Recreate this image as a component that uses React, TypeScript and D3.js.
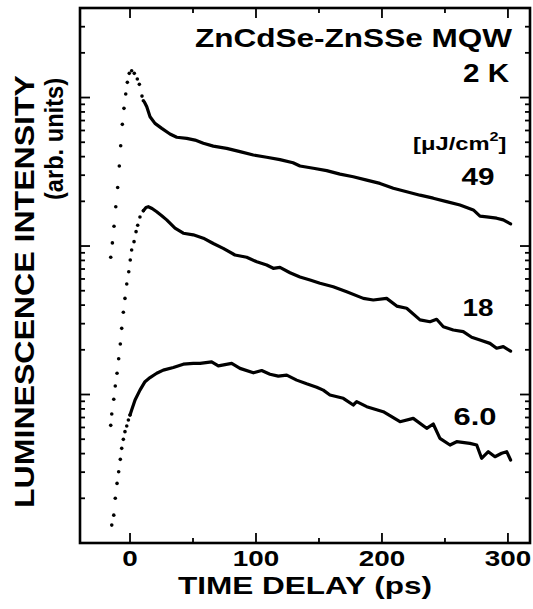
import React from 'react';
import * as d3 from 'd3';

const W = 533;
const H = 609;

// x axis (time delay, ps)
const xDomain = [-39.7, 317.5];
const xMajorTicks = [0, 100, 200, 300];
const xMinorTicks = [50, 150, 250];
const xTickLabels = ['0', '100', '200', '300'];

// y axis (log intensity, arb. units)
const yDomain = [1, 4009];
const yMajorTicks = [1, 10, 100, 1000];

// 49 uJ/cm2 : dotted rise, then solid line
const t49Dots = [-15.3, -14.0, -12.7, -11.3, -9.8, -8.5, -7.4, -6.1, -4.8, -3.4, -2.1, -0.6, 1.3, 3.4, 5.8, 7.4, 9.5, 10.6];
const i49Dots = [84, 105, 136, 184, 248, 346, 474, 660, 846, 1056, 1266, 1455, 1514, 1455, 1333, 1227, 1023, 951];
const t49Line = [11.5, 13.3, 15.9, 19.8, 25.2, 31.7, 37.1, 45.0, 51.6, 58.2, 66.1, 76.7, 87.3, 97.9, 108.5, 119.0, 129.4, 134.9, 145.5, 156.1, 166.7, 177.2, 187.9, 198.4, 209.0, 219.6, 230.2, 240.7, 251.3, 261.9, 272.5, 277.8, 283.1, 291.0, 296.3, 302.1];
const i49Line = [930, 867, 743, 670, 620, 568, 540, 531, 517, 492, 471, 455, 432, 410, 396, 382, 364, 346, 334, 322, 305, 293, 278, 264, 245, 232, 220, 210, 199, 189, 175, 159, 157, 154, 150, 141];

// 18 uJ/cm2
const t18Dots = [-15.3, -14.5, -12.9, -11.7, -10.3, -9.0, -7.7, -6.6, -5.3, -4.0, -2.6, -1.0, 0.2, 1.3, 3.2, 4.8, 6.1, 7.9, 10.6];
const i18Dots = [6.2, 7.4, 9.3, 11.4, 13.9, 17.4, 21.9, 27.9, 35.8, 44.4, 55.5, 67.1, 80.5, 94, 107, 125, 138, 157, 173];
const t18Line = [10.6, 12.7, 14.5, 17.5, 21.2, 25.2, 29.1, 35.7, 42.3, 50.2, 58.2, 66.1, 74.0, 83.3, 92.6, 100.6, 108.5, 113.7, 119.0, 127.0, 134.9, 142.9, 150.8, 161.3, 172.0, 185.2, 193.1, 203.7, 211.7, 219.6, 230.2, 238.1, 243.4, 248.7, 256.6, 264.5, 271.2, 277.8, 285.7, 291.0, 296.3, 302.1];
const i18Line = [173, 182, 184, 179, 170, 160, 150, 132, 122, 119, 113, 104, 96.5, 87, 84, 78.4, 74.5, 70.8, 71.9, 66.1, 61.8, 59, 56.1, 53.2, 49.2, 44.4, 43.3, 44.4, 39.4, 38.1, 31.8, 30.9, 32.1, 28.6, 27.2, 26.5, 24.3, 23.3, 22.1, 20.5, 21.0, 19.6];

// 6.0 uJ/cm2
const t6Dots = [-14.5, -12.9, -11.7, -10.3, -9.0, -7.7, -6.6, -5.3, -4.0, -2.6, -1.3, 0];
const i6Dots = [1.32, 1.54, 2.0, 2.52, 3.02, 3.66, 4.34, 4.99, 5.62, 6.14, 6.73, 7.28];
const t6Line = [0, 1.3, 4.0, 7.9, 11.9, 15.9, 21.2, 26.4, 34.4, 42.3, 50.2, 55.6, 64.8, 70.1, 80.7, 87.3, 97.9, 104.5, 111.1, 117.7, 124.4, 132.3, 140.2, 148.2, 153.4, 158.7, 169.3, 177.2, 179.9, 187.9, 201.0, 214.3, 224.8, 235.5, 240.7, 246.0, 254.0, 259.3, 269.8, 275.2, 279.1, 284.4, 289.7, 295.0, 299.0, 302.1];
const i6Line = [7.28, 7.86, 9.18, 10.7, 12.2, 13.0, 13.9, 14.6, 15.2, 16.0, 16.2, 16.2, 16.6, 15.6, 16.2, 15.0, 14.0, 14.5, 13.7, 13.3, 13.5, 12.5, 11.8, 11.2, 10.7, 9.93, 9.43, 8.50, 8.95, 8.28, 7.66, 6.56, 6.91, 5.92, 6.33, 5.07, 4.57, 4.81, 4.69, 4.57, 3.72, 4.12, 3.81, 4.02, 4.12, 3.62];

const fluenceLabels = ['49', '18', '6.0'];
const titleText = 'ZnCdSe-ZnSSe MQW';
const tempText = '2 K';
const xTitle = 'TIME DELAY (ps)';
const yTitle = 'LUMINESCENCE INTENSITY';
const yTitle2 = '(arb. units)';

const FONT = "'Liberation Sans', Arial, Helvetica, sans-serif";

export default function App() {
  const left = 80, right = 530, top = 8, bottom = 543;
  const x = d3.scaleLinear().domain(xDomain).range([left, right]);
  const y = d3.scaleLog().domain(yDomain).range([bottom, top]);

  const yMinor: number[] = [];
  for (let d = 0; d <= 3; d++) {
    for (let m = 2; m <= 9; m++) {
      const v = m * Math.pow(10, d);
      if (v < yDomain[1]) yMinor.push(v);
    }
  }

  const line = d3.line<[number, number]>().x(d => x(d[0])).y(d => y(d[1]));
  const zip = (a: number[], b: number[]) => a.map((v, i) => [v, b[i]] as [number, number]);

  const curves = [
    { dots: zip(t49Dots, i49Dots), line: zip(t49Line, i49Line) },
    { dots: zip(t18Dots, i18Dots), line: zip(t18Line, i18Line) },
    { dots: zip(t6Dots, i6Dots), line: zip(t6Line, i6Line) },
  ];

  const labelPos = [
    { x: 478, y: 185, w: 33 },
    { x: 478, y: 316, w: 31 },
    { x: 475, y: 425, w: 43 },
  ];

  const majLen = 10, minLen = 5;

  return (
    <svg width={W} height={H} style={{ position: 'absolute', left: 0, top: 0, background: '#fff' }}>
      <rect x={0} y={0} width={W} height={H} fill="#fff" />
      {/* curves */}
      {curves.map((c, i) => (
        <g key={i}>
          <path d={line(c.line) || ''} fill="none" stroke="#000" strokeWidth={3.2} strokeLinejoin="round" strokeLinecap="round" />
          {c.dots.map((p, j) => (
            <circle key={j} cx={x(p[0])} cy={y(p[1])} r={1.8} fill="#000" />
          ))}
        </g>
      ))}

      {/* ticks */}
      <g stroke="#000" strokeWidth={1.8}>
        {xMajorTicks.map(v => (
          <g key={'xm' + v}>
            <line x1={x(v)} x2={x(v)} y1={bottom} y2={bottom - majLen} />
            <line x1={x(v)} x2={x(v)} y1={top} y2={top + majLen} />
          </g>
        ))}
        {xMinorTicks.map(v => (
          <g key={'xn' + v}>
            <line x1={x(v)} x2={x(v)} y1={bottom} y2={bottom - minLen} />
            <line x1={x(v)} x2={x(v)} y1={top} y2={top + minLen} />
          </g>
        ))}
        {yMajorTicks.map(v => (
          <g key={'ym' + v}>
            <line x1={left} x2={left + majLen} y1={y(v)} y2={y(v)} />
            <line x1={right} x2={right - majLen} y1={y(v)} y2={y(v)} />
          </g>
        ))}
        {yMinor.map(v => (
          <g key={'yn' + v}>
            <line x1={left} x2={left + minLen} y1={y(v)} y2={y(v)} />
            <line x1={right} x2={right - minLen} y1={y(v)} y2={y(v)} />
          </g>
        ))}
      </g>

      {/* frame */}
      <rect x={left} y={top} width={right - left} height={bottom - top} fill="none" stroke="#000" strokeWidth={2.6} />

      {/* tick labels */}
      <g fontFamily={FONT} fontWeight="bold" fontSize={22} fill="#000">
        {xMajorTicks.map((v, i) => (
          <text key={v} x={x(v)} y={566} textAnchor="middle"
            textLength={xTickLabels[i].length * 15.5} lengthAdjust="spacingAndGlyphs">{xTickLabels[i]}</text>
        ))}
      </g>

      {/* axis titles */}
      <text x={305} y={594} textAnchor="middle" fontFamily={FONT} fontWeight="bold" fontSize={24}
        textLength={254} lengthAdjust="spacingAndGlyphs">{xTitle}</text>
      <text transform="translate(34,291.5) rotate(-90)" textAnchor="middle" fontFamily={FONT} fontWeight="bold" fontSize={27}
        textLength={433} lengthAdjust="spacingAndGlyphs">{yTitle}</text>
      <text transform="translate(63,139) rotate(-90)" textAnchor="middle" fontFamily={FONT} fontWeight="bold" fontSize={25}
        textLength={122} lengthAdjust="spacingAndGlyphs">{yTitle2}</text>

      {/* annotations */}
      <g fontFamily={FONT} fontWeight="bold" fill="#000">
        <text x={512} y={47} textAnchor="end" fontSize={25} textLength={317} lengthAdjust="spacingAndGlyphs">{titleText}</text>
        <text x={509} y={82} textAnchor="end" fontSize={25} textLength={46} lengthAdjust="spacingAndGlyphs">{tempText}</text>
        <g transform="translate(413,150) scale(1.25,1)">
          <text x={0} y={0} fontSize={19}>
            [μJ/cm<tspan fontSize={13} dy={-9}>2</tspan><tspan dy={9}>]</tspan>
          </text>
        </g>
        {fluenceLabels.map((s, i) => (
          <text key={s} x={labelPos[i].x} y={labelPos[i].y} textAnchor="middle" fontSize={24}
            textLength={labelPos[i].w} lengthAdjust="spacingAndGlyphs">{s}</text>
        ))}
      </g>
    </svg>
  );
}
